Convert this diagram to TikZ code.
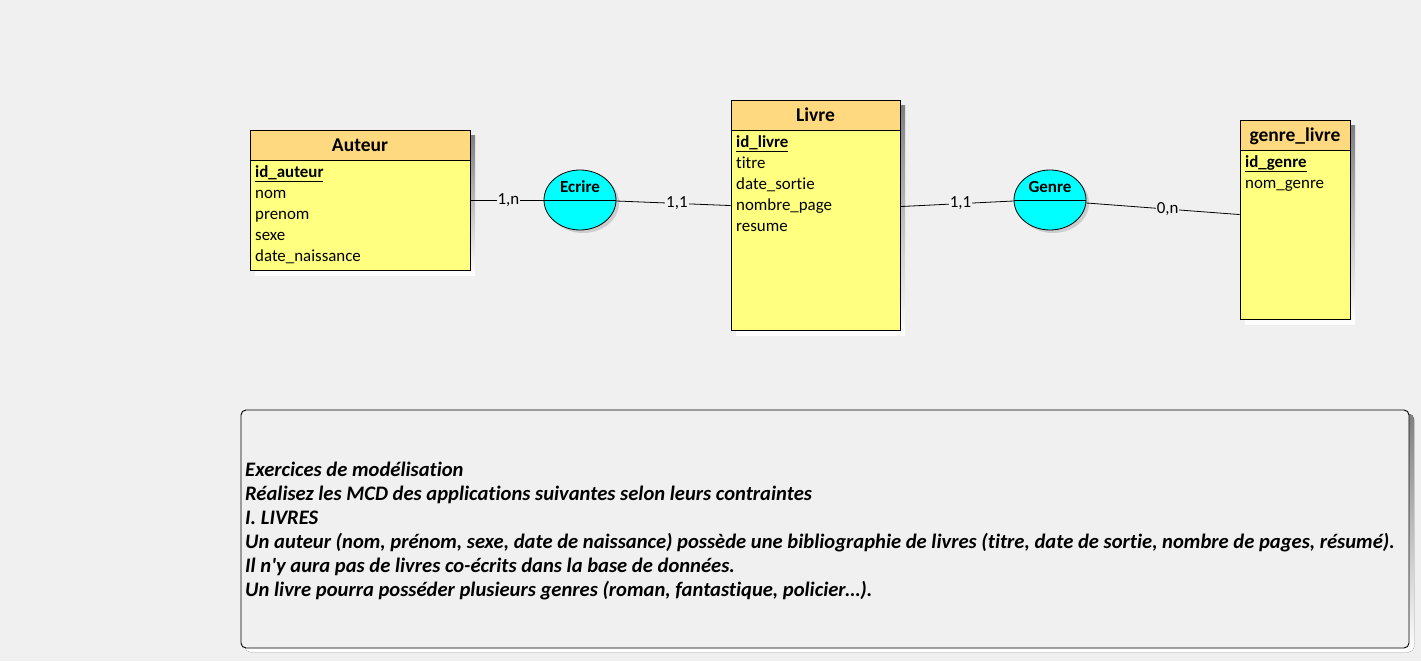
\documentclass[tikz,border=0pt]{standalone}
\usepackage{fontspec}
\setmainfont[Ligatures={NoCommon}]{Carlito}
\newfontfamily\plainfont[Ligatures={NoCommon}]{Carlito}
\usetikzlibrary{shapes.geometric,calc}
\definecolor{bg}{RGB}{240,240,240}
\definecolor{hdr}{RGB}{255,217,128}
\definecolor{bodyc}{RGB}{255,255,128}
\definecolor{assoc}{RGB}{0,255,255}
\definecolor{shade}{RGB}{190,190,190}
\begin{document}
\begin{tikzpicture}[x=1pt,y=-1pt,
  entity/.style={draw=black,fill=bodyc,line width=0.9pt,minimum width=#1,inner sep=0pt},
  headbox/.style={draw=black,fill=hdr,line width=0.9pt,minimum width=#1,minimum height=30pt,inner sep=0pt},
  title/.style={anchor=base,inner sep=0pt,font=\fontsize{19.5}{22}\selectfont\bfseries},
  attr/.style={anchor=base west,inner sep=0pt,font=\fontsize{16.9}{19}\selectfont},
  keyattr/.style={attr,font=\fontsize{16.9}{19}\selectfont\bfseries},
  relation/.style={ellipse,draw=black,fill=assoc,line width=0.8pt,minimum width=72pt,minimum height=60pt,inner sep=0pt},
  reltext/.style={anchor=base,inner sep=0pt,font=\fontsize{17}{19}\selectfont\bfseries},
  card/.style={fill=bg,inner sep=1pt,font=\fontsize{16.9}{19}\selectfont},
  link/.style={line width=0.8pt},
  desc/.style={anchor=base west,inner sep=0pt,font=\plainfont\fontsize{20.6}{24}\selectfont\bfseries\itshape}
]
\useasboundingbox (0,0) rectangle (1421,661);
\fill[bg] (0,0) rectangle (1421,661);

% ---------- Auteur ----------
\fill[shade] (255,135) rectangle (475,275);
\node[entity=220pt,minimum height=140pt] (auteur) at (360,200) {};
\node[headbox=220pt] (auteurH) at (360,145) {};
\node[title] (auteurT) at (360,151) {Auteur};
\node[keyattr] (a1) at (255,177) {\underline{id\_auteur}};
\node[attr] (a2) at (255,198) {nom};
\node[attr] (a3) at (255,219) {prenom};
\node[attr] (a4) at (255,240) {sexe};
\node[attr] (a5) at (255,261) {date\_naissance};

% ---------- Livre ----------
\fill[shade] (736,105) rectangle (905,335);
\node[entity=169pt,minimum height=230pt] (livre) at (815.5,215) {};
\node[headbox=169pt] (livreH) at (815.5,115) {};
\node[title] (livreT) at (815.5,121) {Livre};
\node[keyattr] (l1) at (736,147) {\underline{id\_livre}};
\node[attr] (l2) at (736,168) {titre};
\node[attr] (l3) at (736,189) {date\_sortie};
\node[attr] (l4) at (736,210) {nombre\_page};
\node[attr] (l5) at (736,231) {resume};

% ---------- genre_livre ----------
\fill[shade] (1245,125) rectangle (1355,324);
\node[entity=110pt,minimum height=199pt] (genrel) at (1295,219.5) {};
\node[headbox=110pt] (genrelH) at (1295,135) {};
\node[title] (genrelT) at (1295,141) {genre\_livre};
\node[keyattr] (g1) at (1245,167) {\underline{id\_genre}};
\node[attr] (g2) at (1245,188) {nom\_genre};

% ---------- Associations ----------
\fill[shade!70!bg] (583,203) ellipse (36pt and 30pt);
\node[relation] (ecrire) at (580,200) {};
\draw[line width=0.8pt] (ecrire.west) -- (ecrire.east);
\node[reltext] (ecrireT) at (580,192) {Ecrire};

\fill[shade!70!bg] (1053,203) ellipse (36pt and 30pt);
\node[relation] (genre) at (1050,200) {};
\draw[line width=0.8pt] (genre.west) -- (genre.east);
\node[reltext] (genreT) at (1050,192) {Genre};

% ---------- Links ----------
\coordinate (lw) at ($(livre.north west)+(0,106)$);
\coordinate (le) at ($(livre.north east)+(0,107)$);
\coordinate (ee) at ($(ecrire.east)+(0,1)$);
\coordinate (gw) at ($(genre.west)+(0,1)$);
\coordinate (ge) at ($(genre.east)+(0,3)$);
\coordinate (glw) at ($(genrel.north west)+(0,95)$);

\draw[link] (auteur.east) -- node[card,pos=0.52] {1,n} (ecrire.west);
\draw[link] (ee) -- node[card,pos=0.53] {1,1} (lw);
\draw[link] (le) -- node[card,pos=0.53] {1,1} (gw);
\draw[link] (ge) -- node[card,pos=0.53] {0,n} (glw);

% ---------- Description box ----------
\fill[shade,rounded corners=5pt] (245,414) rectangle (1414,652);
\node[draw=black,fill=bg,line width=0.9pt,rounded corners=5pt,minimum width=1168pt,minimum height=238pt,inner sep=0pt] (descbox) at (825,529) {};
\node[desc] (d1) at (245,476) {Exercices de modélisation};
\node[desc] (d2) at (245,500) {Réalisez les MCD des applications suivantes selon leurs contraintes};
\node[desc] (d3) at (245,524) {I. LIVRES};
\node[desc] (d4) at (245,548) {Un auteur (nom, prénom, sexe, date de naissance) possède une bibliographie de livres (titre, date de sortie, nombre de pages, résumé).};
\node[desc] (d5) at (245,572) {Il n'y aura pas de livres co-écrits dans la base de données.};
\node[desc] (d6) at (245,596) {Un livre pourra posséder plusieurs genres (roman, fantastique, policier…).};
\end{tikzpicture}
\end{document}
